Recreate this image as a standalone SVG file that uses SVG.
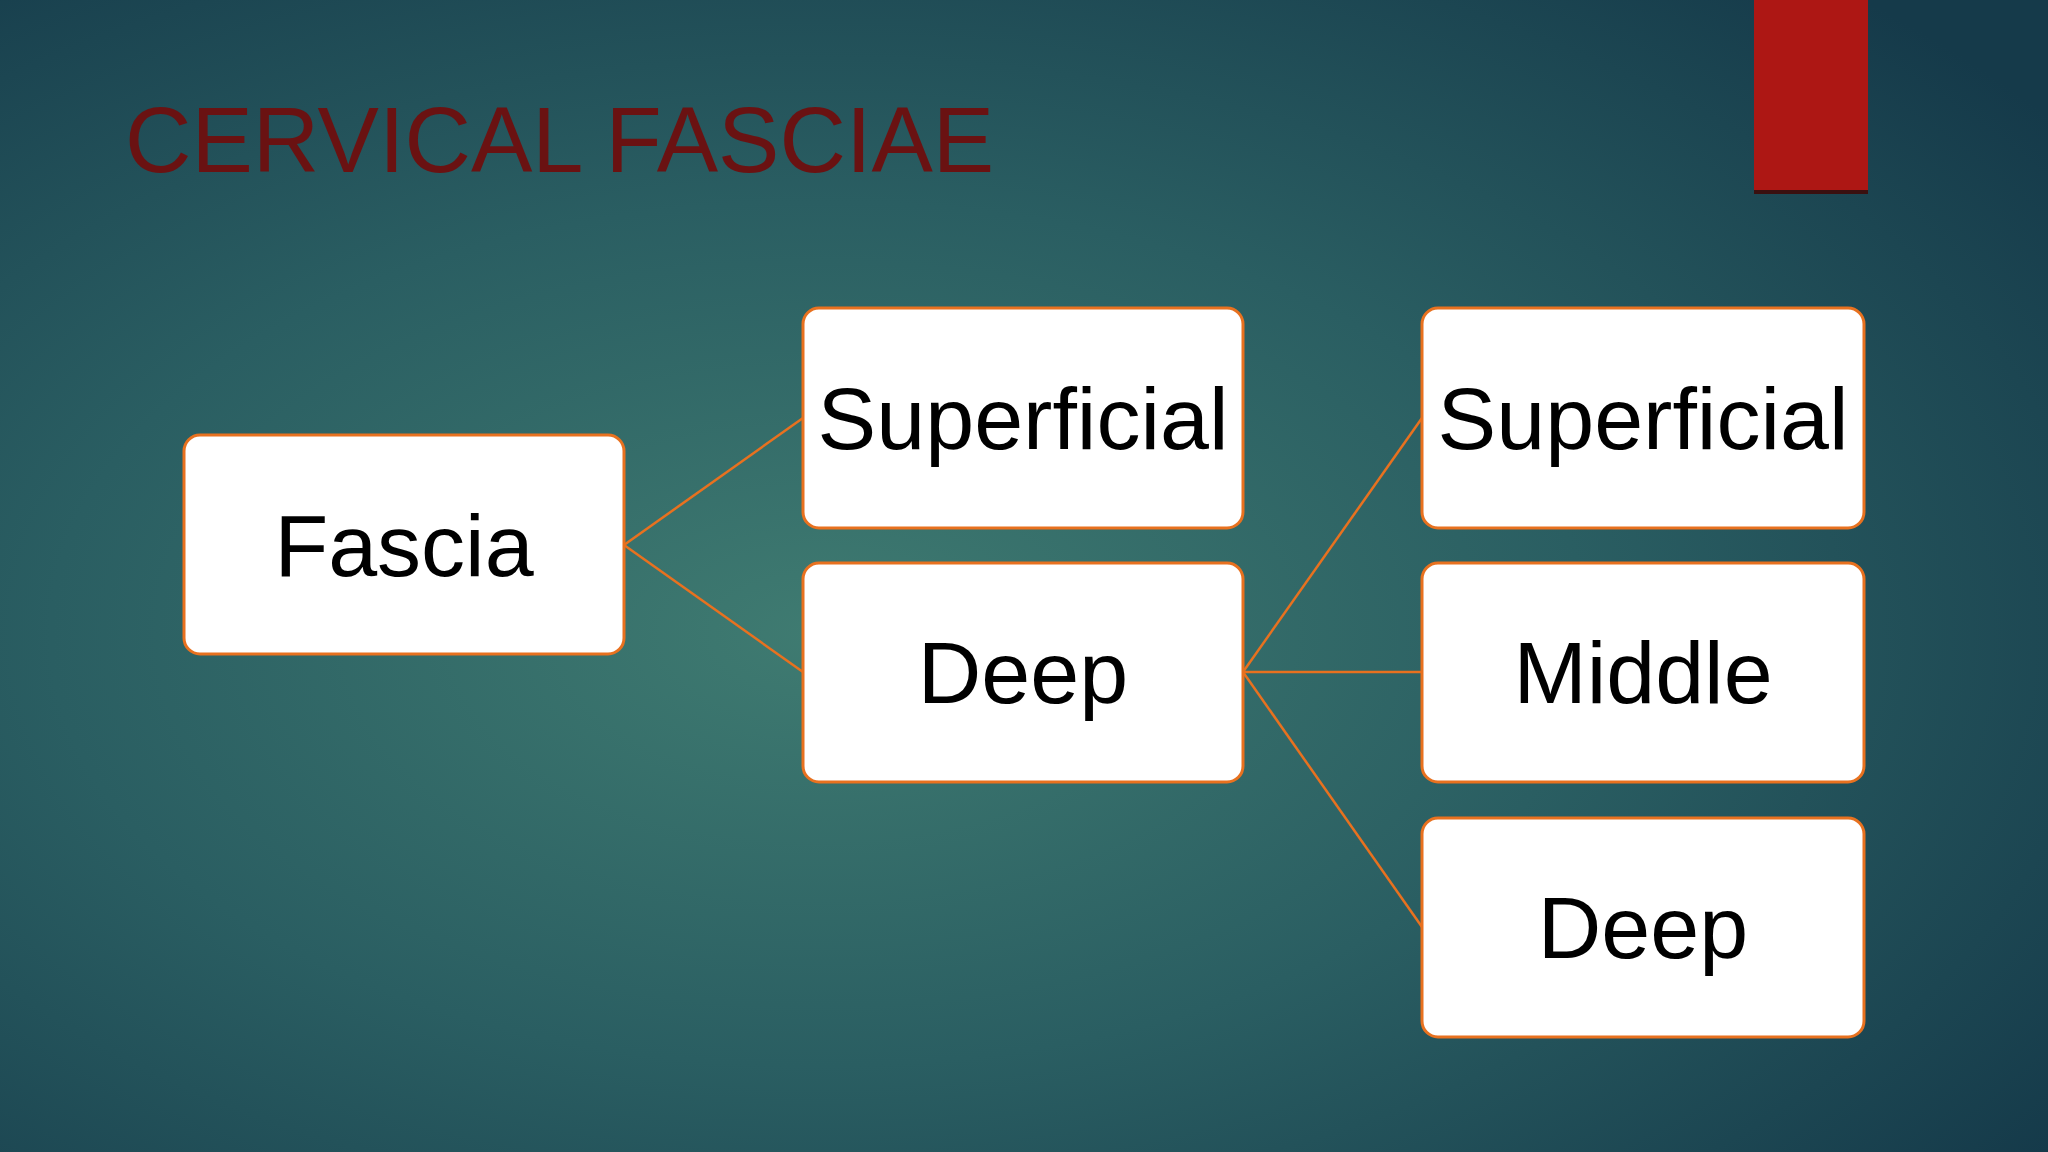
<svg xmlns="http://www.w3.org/2000/svg" width="2048" height="1152" viewBox="0 0 2048 1152">
<defs>
<radialGradient id="bg" cx="0.4" cy="0.55" r="0.75">
<stop offset="0" stop-color="#3f7b71"/>
<stop offset="0.5" stop-color="#2a5e62"/>
<stop offset="1" stop-color="#153a4a"/>
</radialGradient>
<style>
.box{fill:#fff;stroke:#e8711f;stroke-width:3}
.t{font-family:"Liberation Sans",Arial,sans-serif;font-size:88px;fill:#000;text-anchor:middle}
.c{stroke:#e8711f;stroke-width:2.5;fill:none}
</style>
</defs>
<rect width="2048" height="1152" fill="url(#bg)"/>
<rect x="1754" y="0" width="114" height="190" fill="#ad1714"/>
<rect x="1754" y="190" width="114" height="4" fill="#3a1010"/>
<text x="125" y="172" font-family="Liberation Sans,Arial,sans-serif" font-size="92" fill="#6a1212">CERVICAL FASCIAE</text>
<g id="connectors">
<line class="c" x1="624" y1="545" x2="803" y2="418"/>
<line class="c" x1="624" y1="545" x2="803" y2="672"/>
<line class="c" x1="1243" y1="672" x2="1422" y2="418"/>
<line class="c" x1="1243" y1="672" x2="1422" y2="672"/>
<line class="c" x1="1243" y1="672" x2="1422" y2="927"/>
</g>
<g id="fascia"><rect class="box" x="184" y="435" width="440" height="219" rx="16"/><text class="t" x="404" y="576">Fascia</text></g>
<g id="superficial"><rect class="box" x="803" y="308" width="440" height="220" rx="16"/><text class="t" x="1023" y="449">Superficial</text></g>
<g id="deep"><rect class="box" x="803" y="563" width="440" height="219" rx="16"/><text class="t" x="1023" y="703">Deep</text></g>
<g id="superficial2"><rect class="box" x="1422" y="308" width="442" height="220" rx="16"/><text class="t" x="1643" y="449">Superficial</text></g>
<g id="middle"><rect class="box" x="1422" y="563" width="442" height="219" rx="16"/><text class="t" x="1643" y="703">Middle</text></g>
<g id="deep2"><rect class="box" x="1422" y="818" width="442" height="219" rx="16"/><text class="t" x="1643" y="958">Deep</text></g>
</svg>
